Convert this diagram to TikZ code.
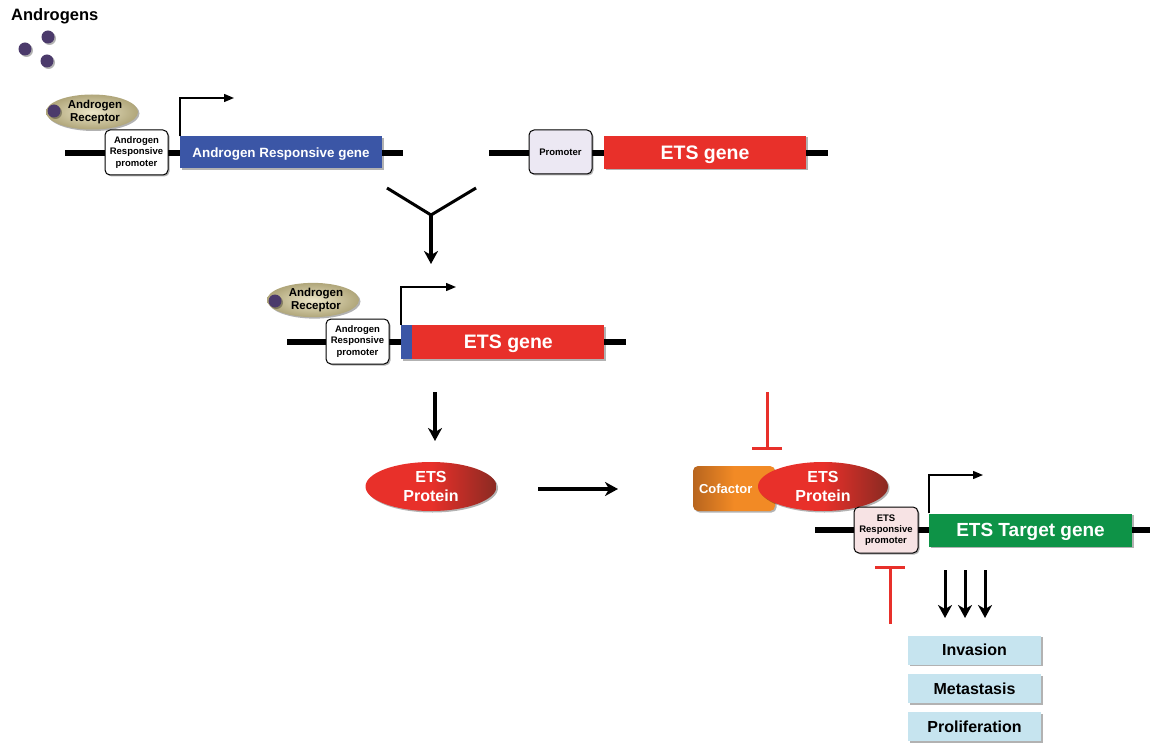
\documentclass[tikz,border=0pt]{standalone}
\usepackage{fontspec}
\setmainfont{Liberation Sans}
\usetikzlibrary{shapes.geometric,arrows.meta,shadows}
\definecolor{geneblue}{HTML}{3B56A6}
\definecolor{etsred}{HTML}{E8302A}
\definecolor{etsdark}{HTML}{8A2A22}
\definecolor{genegreen}{HTML}{0E9347}
\definecolor{lightblue}{HTML}{C6E4EF}
\definecolor{promgray}{HTML}{ECE8F3}
\definecolor{prompink}{HTML}{F7E3E4}
\definecolor{cofor}{HTML}{F28A25}
\definecolor{cofdark}{HTML}{B8651E}
\definecolor{khakilight}{HTML}{ECE6C8}
\definecolor{khakidark}{HTML}{B0A67A}
\definecolor{andpurple}{HTML}{4B3A6B}
\tikzset{
  shd/.style={drop shadow={shadow xshift=1.5pt,shadow yshift=-1.5pt,opacity=.3,fill=black}},
  dna/.style={line width=5.5pt,black},
  prombox/.style={draw=black,line width=1pt,rounded corners=5pt,minimum width=63pt,minimum height=45pt,
    font=\fontsize{9.5}{11.3}\selectfont\bfseries,shd},
  genebox/.style={minimum height=33pt,text=white,text depth=0pt,shd},
  arreceptor/.style={ellipse,minimum width=92pt,minimum height=35pt,inner color=khakilight,outer color=khakidark,
    font=\fontsize{11.5}{13.5}\selectfont\bfseries,shd},
  hormone/.style={circle,fill=andpurple,minimum size=13pt,shd},
  etsprot/.style={ellipse,minimum width=131pt,minimum height=49pt,left color=etsred,right color=etsdark,middle color=etsred,
    text=white,font=\fontsize{16}{19}\selectfont\bfseries,shd},
  outbox/.style={fill=lightblue,minimum width=133pt,minimum height=29pt,text depth=0pt,
    font=\fontsize{16}{18}\selectfont\bfseries,shd},
  tssarrow/.style={line width=1.4pt,-{Triangle[length=10pt,width=8pt]}},
  bigarrow/.style={line width=3.5pt,-{Stealth[length=13pt,width=14pt,inset=4pt]}},
  inhib/.style={line width=3pt,draw=etsred,-{Bar[width=30pt]}},
}
\begin{document}
\begin{tikzpicture}[x=1pt,y=-1pt,every node/.style={inner sep=0pt,align=center,font=\bfseries}]
\useasboundingbox (0,0) rectangle (1150,743);

% Androgens
\node[font=\fontsize{16.5}{18}\selectfont\bfseries,anchor=west] (androgens) at (11,16) {Androgens};
\node[hormone] (h1) at (48,37) {};
\node[hormone] (h2) at (25,49) {};
\node[hormone] (h3) at (47,61) {};

% Row 1 left: androgen responsive gene
\coordinate (d1a) at (65,153);
\coordinate (d1b) at (403,153);
\draw[dna] (d1a) -- (d1b);
\node[prombox,fill=white] (arp1) at (136.5,152.5) {Androgen\\Responsive\\promoter};
\node[genebox,fill=geneblue,minimum width=202pt,minimum height=32pt,font=\fontsize{13.4}{15}\selectfont\bfseries] (argene) at (281,152.5) {Androgen Responsive gene};
\node[arreceptor] (ar1) at (92,112) {\hspace*{6pt}Androgen\\\hspace*{6pt}Receptor};
\node[hormone] (ar1dot) at (54,111) {};
\coordinate (t1) at (234,98);
\draw[tssarrow] (argene.north west) |- (t1);

% Row 1 right: ETS gene with own promoter
\coordinate (d2a) at (489,153);
\coordinate (d2b) at (828,153);
\draw[dna] (d2a) -- (d2b);
\node[prombox,fill=promgray,minimum height=44pt] (prom2) at (560.5,152) {Promoter};
\node[genebox,fill=etsred,minimum width=202pt,font=\fontsize{19.5}{22}\selectfont\bfseries] (etsgene1) at (705,152.5) {ETS gene};

% Merge (Y)
\coordinate (yl) at (387,188);
\coordinate (yr) at (476,188);
\coordinate (yj) at (431,215);
\coordinate (ytip) at (431,264);
\draw[line width=3pt,line join=miter] (yl) -- (yj) -- (yr);
\draw[bigarrow] (yj) -- (ytip);

% Row 2: fusion
\coordinate (d3a) at (287,342);
\coordinate (d3b) at (626,342);
\draw[dna] (d3a) -- (d3b);
\node[prombox,fill=white] (arp2) at (357.5,341.5) {Androgen\\Responsive\\promoter};
\node[fill=geneblue,minimum width=11pt,minimum height=34pt,shd] (blue2) at (406.5,342) {};
\node[genebox,fill=etsred,minimum width=192pt,minimum height=34pt,font=\fontsize{19.5}{22}\selectfont\bfseries,anchor=west] (etsgene2) at (blue2.east) {ETS gene};
\node[arreceptor,minimum height=33pt] (ar2) at (313,300) {\hspace*{6pt}Androgen\\\hspace*{6pt}Receptor};
\node[hormone] (ar2dot) at (275,301) {};
\coordinate (t2) at (456,287);
\draw[tssarrow] (blue2.north west) |- (t2);

% translation
\coordinate (a2s) at (435,392);
\coordinate (a2e) at (435,441);
\draw[bigarrow] (a2s) -- (a2e);

% ETS protein
\node[etsprot] (prot1) at (431,486.5) {ETS\\Protein};
\coordinate (a3s) at (538,489);
\coordinate (a3e) at (618,489);
\draw[bigarrow] (a3s) -- (a3e);

% Complex
\node[left color=cofdark,right color=cofor,middle color=cofor,rounded corners=5pt,minimum width=82pt,minimum height=45pt,
  text=white,font=\fontsize{13}{15}\selectfont\bfseries,shd,text width=70pt,align=left] (cof) at (734,488.5) {Cofactor};
\node[etsprot,minimum width=130pt] (prot2) at (823,486.5) {ETS\\Protein};
\coordinate (i1s) at (767,392);
\coordinate (i1e) at (767,450);
\draw[inhib] (i1s) -- (i1e);

% Row 3: ETS target
\coordinate (d4a) at (815,530);
\coordinate (d4b) at (1150,530);
\draw[dna] (d4a) -- (d4b);
\node[prombox,fill=prompink,minimum width=64pt,minimum height=46pt] (prom3) at (886,530) {ETS\\Responsive\\promoter};
\node[genebox,fill=genegreen,minimum width=203pt,font=\fontsize{19}{22}\selectfont\bfseries] (target) at (1030.5,530) {ETS Target gene};
\coordinate (t3) at (983,475);
\draw[tssarrow] (target.north west) |- (t3);

% lower inhibitor
\coordinate (i2s) at (890,624);
\coordinate (i2e) at (890,566);
\draw[inhib] (i2s) -- (i2e);

% outputs
\node[outbox] (inv) at (974.5,650) {Invasion};
\node[outbox] (met) at (974.5,688.5) {Metastasis};
\node[outbox] (pro) at (974.5,726.5) {Proliferation};
\coordinate (o1) at (945,570);
\coordinate (o2) at (965,570);
\coordinate (o3) at (985,570);
\draw[bigarrow,line width=3pt] (o1) -- (o1 |- 0,618);
\draw[bigarrow,line width=3pt] (o2) -- (o2 |- 0,618);
\draw[bigarrow,line width=3pt] (o3) -- (o3 |- 0,618);
\end{tikzpicture}
\end{document}
